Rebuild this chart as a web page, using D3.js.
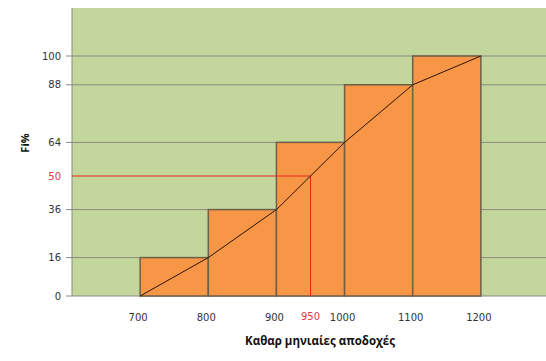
<!DOCTYPE html>
<html><head><meta charset="utf-8">
<script src="https://cdn.jsdelivr.net/npm/d3@7"></script>
<style>body{margin:0;background:#fff}svg{display:block}</style>
</head><body>
<svg id="c" width="546" height="361"></svg>
<script>
const binStart = [700, 800, 900, 1000, 1100];
const binEnd = [800, 900, 1000, 1100, 1200];
const cumPct = [16, 36, 64, 88, 100];
const ogiveX = [700, 800, 900, 1000, 1100, 1200];
const ogiveY = [0, 16, 36, 64, 88, 100];
const yTicks = [0, 16, 36, 64, 88, 100];
const xTicks = [700, 800, 900, 1000, 1100, 1200];
const medianX = 950, medianY = 50;

const svg = d3.select("#c");
const x = d3.scaleLinear().domain([600, 1300]).range([72, 549]);
const y = d3.scaleLinear().domain([0, 120]).range([296, 8]);
const font = "DejaVu Sans, sans-serif";

svg.append("rect").attr("x", 72).attr("y", 8).attr("width", 546 - 72).attr("height", 296 - 8).attr("fill", "#C3D69B");

// gridlines
svg.append("g").selectAll("line").data(yTicks).join("line")
  .attr("x1", 66).attr("x2", 546).attr("y1", d => y(d)).attr("y2", d => y(d))
  .attr("stroke", "#8a8a80").attr("stroke-width", 1);
svg.append("line").attr("x1", 72).attr("x2", 72).attr("y1", 8).attr("y2", 296).attr("stroke", "#8a8a80");

// bars
svg.append("g").selectAll("rect").data(cumPct).join("rect")
  .attr("x", (d, i) => x(binStart[i])).attr("width", (d, i) => x(binEnd[i]) - x(binStart[i]))
  .attr("y", d => y(d)).attr("height", d => y(0) - y(d))
  .attr("fill", "#F79646").attr("stroke", "#6e5f48").attr("stroke-width", 1.5);

// median lines
svg.append("path").attr("d", `M${x(600)},${y(medianY)}H${x(medianX)}V${y(0)}`)
  .attr("fill", "none").attr("stroke", "#e8271c").attr("stroke-width", 1);

// ogive
svg.append("path").datum(ogiveX.map((v, i) => [v, ogiveY[i]]))
  .attr("d", d3.line().x(d => x(d[0])).y(d => y(d[1])))
  .attr("fill", "none").attr("stroke", "#2a1200").attr("stroke-width", 1);

// y labels
svg.append("g").selectAll("text").data(yTicks).join("text")
  .attr("x", 61).attr("y", d => y(d)).attr("dy", "0.35em").attr("text-anchor", "end")
  .attr("font-family", font).attr("font-size", 10).attr("fill", "#333").text(d => d);
svg.append("text").attr("x", 61).attr("y", y(medianY)).attr("dy", "0.35em").attr("text-anchor", "end")
  .attr("font-family", font).attr("font-size", 10).attr("fill", "#e0394a").text(medianY);

// x labels
svg.append("g").selectAll("text").data(xTicks).join("text")
  .attr("x", d => x(d) - 2).attr("y", 321).attr("text-anchor", "middle")
  .attr("font-family", font).attr("font-size", 10).attr("fill", "#333").text(d => d);
svg.append("text").attr("x", x(medianX)).attr("y", 320).attr("text-anchor", "middle")
  .attr("font-family", font).attr("font-size", 10).attr("fill", "#e0394a").text(medianX);

// axis titles
svg.append("text").attr("x", 320).attr("y", 345).attr("text-anchor", "middle")
  .attr("font-family", "Open Sans, sans-serif").attr("font-weight", "bold").attr("font-size", 11.5)
  .attr("fill", "#111").text("Καθαρ μηνιαίες αποδοχές");
svg.append("text").attr("transform", "translate(29,143) rotate(-90)").attr("text-anchor", "middle")
  .attr("font-family", "Open Sans, sans-serif").attr("font-weight", "bold").attr("font-size", 11)
  .attr("fill", "#111").text("Fi%");
</script>
</body></html>
